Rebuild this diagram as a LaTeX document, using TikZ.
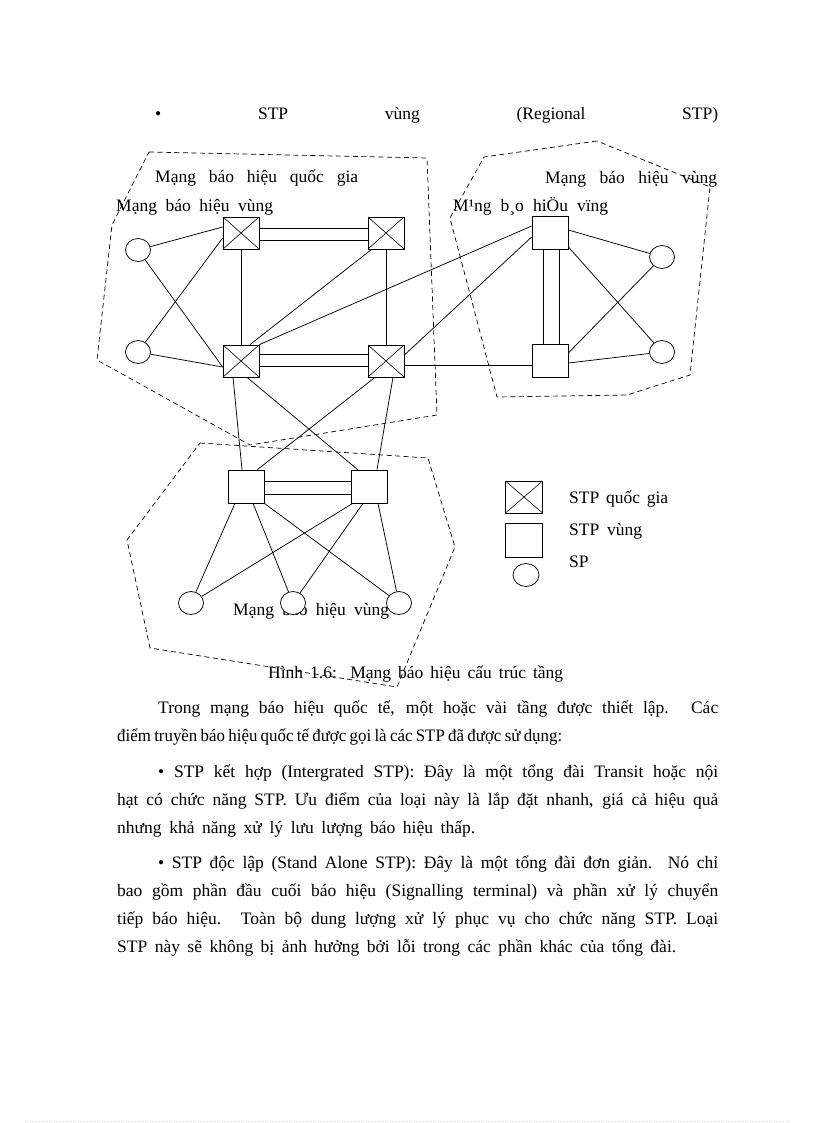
\documentclass[tikz,border=0pt]{standalone}
\usepackage{fontspec}
\setmainfont{Liberation Serif}
\usetikzlibrary{shapes.geometric}
\newcommand\fitline[2]{\makebox[#1][s]{\spaceskip=2pt plus 20pt\relax #2}}
\begin{document}
\begin{tikzpicture}[x=1pt,y=-1pt,
  txt/.style={anchor=base west, inner sep=0pt, font=\fontsize{17.5pt}{21pt}\selectfont},
  net/.style={draw, dash pattern=on 5pt off 3.5pt, line width=0.7pt},
  link/.style={line width=0.75pt},
  stpq/.style={draw, line width=0.75pt, fill=white, minimum width=36pt, minimum height=32pt, inner sep=0pt,
    path picture={\draw[line width=0.6pt] (path picture bounding box.south west) -- (path picture bounding box.north east)
      (path picture bounding box.north west) -- (path picture bounding box.south east);}},
  stpv/.style={draw, line width=0.75pt, fill=white, minimum width=36pt, minimum height=33pt, inner sep=0pt},
  spn/.style={draw, ellipse, line width=0.75pt, fill=white, minimum width=25pt, minimum height=23pt, inner sep=0pt}
]
\useasboundingbox (0,0) rectangle (816,1123);
\fill[white] (0,0) rectangle (816,1123);

% dashed network boundaries
\draw[net] (149,152) -- (427,158) -- (437,415) -- (250,445) -- (97,360) -- (112,225) -- cycle;
\draw[net] (597,141) -- (484,157) -- (450,218) -- (497,397) -- (627,395) -- (690,375) -- (710,187) -- cycle;
\draw[net] (200,443) -- (428,458) -- (455,547) -- (397,687) -- (150,648) -- (127,540) -- cycle;

% title line
\node[txt] (title) at (155,120) {\makebox[563pt][s]{• STP vùng (Regional STP)}};

% labels
\node[txt] (lq) at (155,183) {\fitline{203pt}{Mạng báo hiệu quốc gia}};
\node[txt] (lv1) at (116,212) {\fitline{157pt}{Mạng báo hiệu vùng}};
\node[txt] (lv2) at (545,184) {\fitline{172pt}{Mạng báo hiệu vùng}};
\node[txt] (lv3) at (453,212) {\fitline{155pt}{M¹ng b¸o hiÖu vïng}};
\node[txt] (lv4) at (233,615) {\fitline{156pt}{Mạng báo hiệu vùng}};

% national STPs
\node[stpq] (ntl) at (241,233) {};
\node[stpq] (ntr) at (386,233) {};
\node[stpq] (nbl) at (241,361) {};
\node[stpq] (nbr) at (386,361) {};
% regional STPs
\node[stpv] (rts) at (550,233) {};
\node[stpv] (rbs) at (550,361) {};
\node[stpv] (bsl) at (246,486.5) {};
\node[stpv] (bsr) at (369,486.5) {};
% SPs
\node[spn] (sp1) at (138,250) {};
\node[spn] (sp2) at (138,352) {};
\node[spn] (sp3) at (191,603) {};
\node[spn] (sp4) at (293,603) {};
\node[spn] (sp5) at (399,603) {};
\node[spn] (sp6) at (662,257) {};
\node[spn] (sp7) at (662,352) {};

% double links
\draw[link] ([yshift=5pt]ntl.east) -- ([yshift=5pt]ntr.west);
\draw[link] ([yshift=-7pt]ntl.east) -- ([yshift=-7pt]ntr.west);
\draw[link] ([yshift=7pt]nbl.east) -- ([yshift=7pt]nbr.west);
\draw[link] ([yshift=-5pt]nbl.east) -- ([yshift=-5pt]nbr.west);
\draw[link] ([yshift=5.5pt]bsl.east) -- ([yshift=5.5pt]bsr.west);
\draw[link] ([yshift=-7.5pt]bsl.east) -- ([yshift=-7.5pt]bsr.west);
\draw[link] ([xshift=-7pt]rts.south) -- ([xshift=-7pt]rbs.north);
\draw[link] ([xshift=9pt]rts.south) -- ([xshift=9pt]rbs.north);

% single links
\draw[link] (ntl.south) -- (nbl.north);
\draw[link] (ntr.south) -- (nbr.north);
\draw[link] (sp1) -- ([yshift=6pt]ntl.west);
\draw[link] (sp1) -- ([yshift=-6pt]nbl.west);
\draw[link] (sp2) -- ([yshift=-5pt]ntl.west);
\draw[link] (sp2) -- ([yshift=-6pt]nbl.west);
\draw[link] ([xshift=4pt]ntr.south west) -- ([xshift=9pt]nbl.north);
\draw[link] ([yshift=7pt]rts.west) -- (nbl.north east);
\draw[link] ([yshift=-4pt]rts.west) -- ([yshift=6pt]nbr.east);
\draw[link] ([yshift=-4pt]nbr.east) -- ([yshift=-4pt]rbs.west);
\draw[link] ([xshift=-8pt]nbl.south) -- ([xshift=-4pt]bsl.north);
\draw[link] ([xshift=6pt]nbl.south) -- ([xshift=7pt]bsr.north west);
\draw[link] ([xshift=-11pt]nbr.south) -- ([xshift=-7pt]bsl.north east);
\draw[link] ([xshift=7pt]nbr.south) -- ([xshift=8pt]bsr.north);
\draw[link] ([xshift=-11pt]bsl.south) -- (sp3);
\draw[link] ([xshift=7pt]bsl.south) -- (sp4);
\draw[link] (bsl.south east) -- (sp5);
\draw[link] ([xshift=2pt]bsr.south west) -- (sp3);
\draw[link] ([xshift=-6pt]bsr.south) -- (sp4);
\draw[link] ([xshift=9pt]bsr.south) -- (sp5);
\draw[link] ([yshift=3pt]rts.east) -- (sp6);
\draw[link] ([yshift=-14pt]rts.east) -- (sp7);
\draw[link] ([yshift=8pt]rbs.east) -- (sp6);
\draw[link] ([yshift=-2pt]rbs.east) -- (sp7);

% legend
\node[stpq, minimum width=37pt] (lgq) at (524,497) {};
\node[stpv, minimum width=37pt, minimum height=34pt] (lgv) at (524,540) {};
\node[spn, minimum width=26pt] (lgs) at (526,575) {};
\node[txt] (lgqt) at (569,503) {\fitline{99pt}{STP quốc gia}};
\node[txt] (lgvt) at (569,535) {\fitline{73pt}{STP vùng}};
\node[txt] (lgst) at (569,567) {SP};

% caption
\node[txt] (cap) at (268,678) {\fitline{295pt}{Hình 1.6: Mạng báo hiệu cấu trúc tầng}};

% body text
\node[txt] (b1) at (158,713) {\makebox[560pt][s]{Trong mạng báo hiệu quốc tế, một hoặc vài tầng được thiết lập. Các}};
\node[txt] (b2) at (117,741) {\addfontfeature{FakeStretch=0.965}\makebox[445pt][s]{\spaceskip=3pt plus 20pt\relax điểm truyền báo hiệu quốc tế được gọi là các STP đã được sử dụng:}};
\node[txt] (b3) at (158,777) {\makebox[560pt][s]{• STP kết hợp (Intergrated STP): Đây là một tổng đài Transit hoặc nội}};
\node[txt] (b4) at (117,805) {\makebox[601pt][s]{hạt có chức năng STP. Ưu điểm của loại này là lắp đặt nhanh, giá cả hiệu quả}};
\node[txt] (b5) at (117,833) {\fitline{358pt}{nhưng khả năng xử lý lưu lượng báo hiệu thấp.}};
\node[txt] (b6) at (158,868) {\makebox[560pt][s]{• STP độc lập (Stand Alone STP): Đây là một tổng đài đơn giản. Nó chỉ}};
\node[txt] (b7) at (117,896) {\makebox[601pt][s]{bao gồm phần đầu cuối báo hiệu (Signalling terminal) và phần xử lý chuyển}};
\node[txt] (b8) at (117,924) {\makebox[601pt][s]{tiếp báo hiệu. Toàn bộ dung lượng xử lý phục vụ cho chức năng STP. Loại}};
\node[txt] (b9) at (117,952) {\fitline{559pt}{STP này sẽ không bị ảnh hưởng bởi lỗi trong các phần khác của tổng đài.}};

% faint page rule
\draw[gray!35, dotted] (25,1121) -- (790,1121);
\end{tikzpicture}
\end{document}
